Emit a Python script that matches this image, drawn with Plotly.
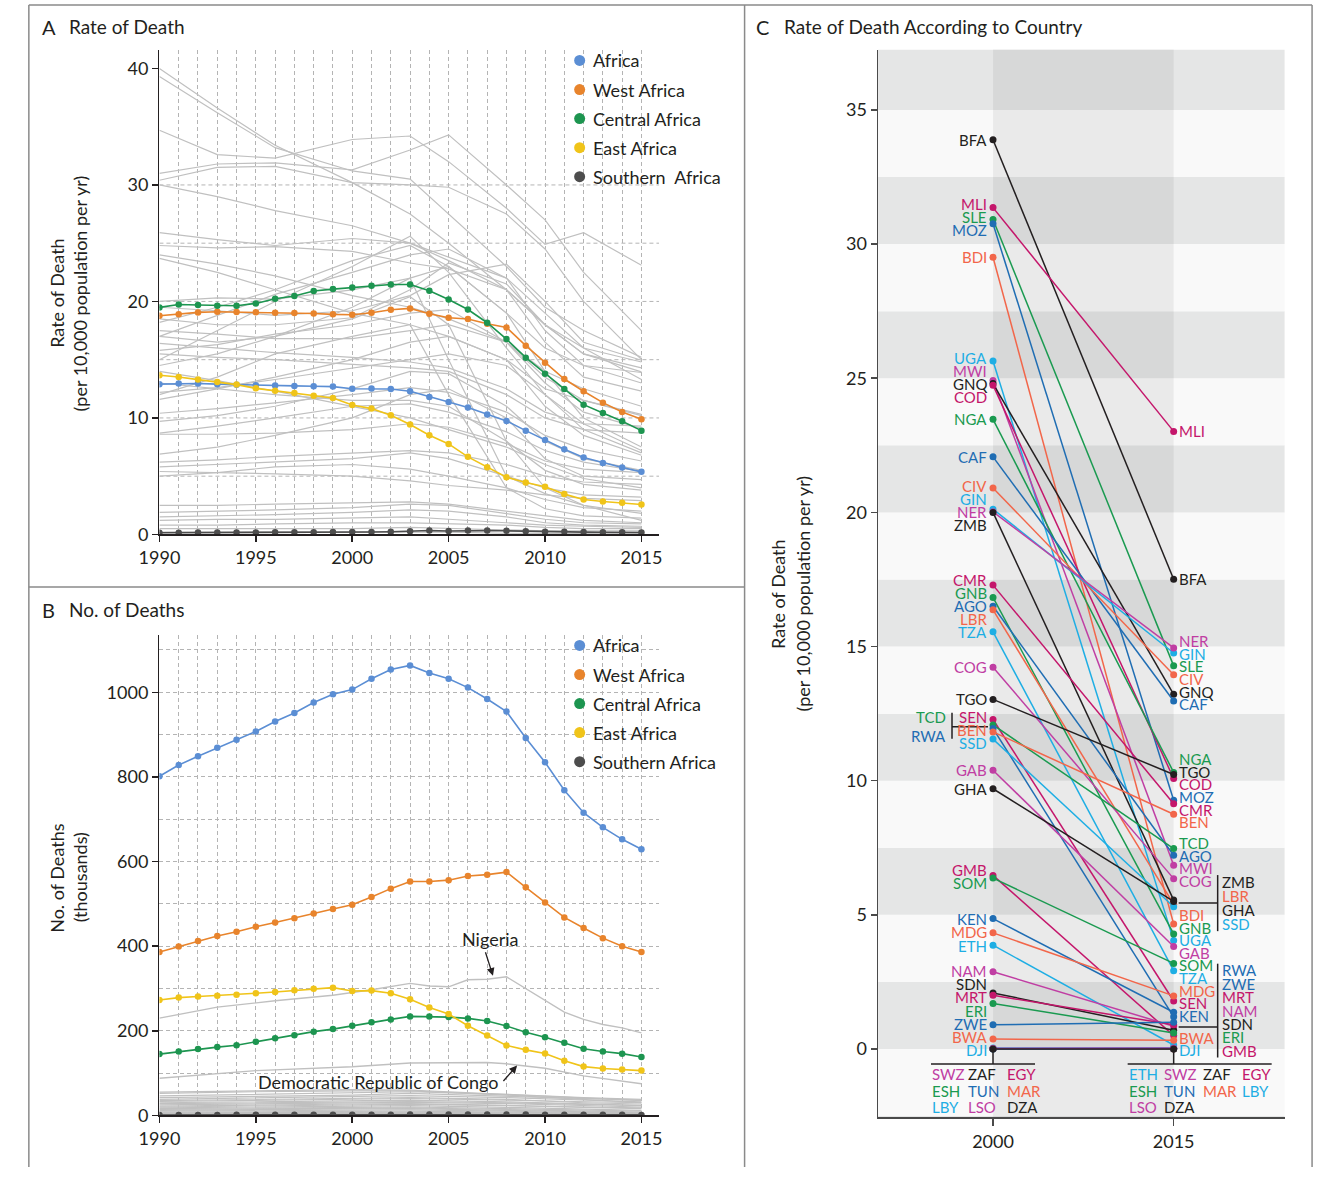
import plotly.graph_objects as go

W, H = 1319, 1177
FONT = "Lato"
INK = "#231f20"
GRID = "#b4b4b4"
GRAY = "#c0c0c0"
DASH = "4px,3px"


def xp(v):
    return v / W


def yp(v):
    return 1 - v / H


# ---------------- data ----------------
YEARS = list(range(1990, 2016))
TICK_YEARS = [1990, 1995, 2000, 2005, 2010, 2015]
REGIONS = ["Africa", "West Africa", "Central Africa", "East Africa", "Southern Africa"]
REGION_LEGEND_A = ["Africa", "West Africa", "Central Africa", "East Africa", "Southern\u00a0 Africa"]
REGION_COLORS = ["#5b8ed4", "#e8842c", "#1d9550", "#f0c419", "#4d4d4d"]

# Panel A: rate of death per 10,000 population per year
AFRICA_RATE = [12.9, 12.95, 12.95, 12.9, 12.85, 12.8, 12.78, 12.75, 12.72, 12.69, 12.5, 12.52, 12.48,
               12.29, 11.8, 11.37, 10.89, 10.29, 9.74, 8.91, 8.11, 7.31, 6.6, 6.14, 5.74, 5.37]
WEST_RATE = [18.77, 18.91, 19.06, 19.11, 19.09, 19.08, 19.03, 19.0, 18.97, 18.89, 18.86, 19.03, 19.29,
             19.4, 18.94, 18.6, 18.49, 18.09, 17.77, 16.2, 14.74, 13.34, 12.29, 11.31, 10.51, 9.89]
CENTRAL_RATE = [19.49, 19.74, 19.69, 19.63, 19.63, 19.83, 20.23, 20.46, 20.89, 21.06, 21.2, 21.34, 21.46,
                21.46, 20.91, 20.17, 19.31, 18.17, 16.77, 15.17, 13.8, 12.49, 11.14, 10.43, 9.71, 8.91]
EAST_RATE = [13.66, 13.51, 13.29, 13.09, 12.86, 12.54, 12.34, 12.14, 11.91, 11.71, 11.11, 10.8, 10.23,
             9.43, 8.51, 7.77, 6.66, 5.77, 4.91, 4.46, 4.09, 3.46, 3.0, 2.83, 2.71, 2.57]
SOUTH_RATE = [0.15, 0.15, 0.16, 0.16, 0.17, 0.17, 0.18, 0.18, 0.19, 0.2, 0.2, 0.21, 0.23,
              0.27, 0.33, 0.3, 0.34, 0.33, 0.31, 0.27, 0.24, 0.22, 0.2, 0.19, 0.18, 0.17]

# Panel A gray country lines (values at GRAY_YEARS_A)
GRAY_YEARS_A = [1990, 1993, 1996, 2000, 2003, 2005, 2008, 2010, 2012, 2015]
GRAY_RATE_LINES = [
    [40.0, 36.6, 33.4, 30.2, 27.5, 25.0, 21.0, 18.0, 16.0, 13.3],
    [39.3, 36.2, 33.2, 31.2, 30.5, 27.5, 23.0, 19.5, 17.5, 15.2],
    [34.7, 32.6, 32.3, 33.9, 34.2, 32.0, 28.0, 24.9, 25.9, 23.1],
    [31.0, 31.8, 31.9, 31.3, 33.0, 34.3, 30.0, 27.0, 22.5, 17.5],
    [30.4, 31.5, 31.6, 30.2, 30.0, 29.8, 27.5, 24.5, 20.0, 15.0],
    [30.0, 29.0, 27.8, 26.5, 25.0, 23.5, 21.0, 16.5, 13.5, 12.3],
    [25.9, 25.3, 24.8, 25.4, 25.0, 23.8, 22.0, 19.0, 16.0, 14.8],
    [24.8, 24.6, 24.7, 24.3, 23.3, 22.8, 21.0, 18.0, 15.5, 14.3],
    [24.0, 23.2, 22.2, 20.5, 19.5, 18.5, 16.5, 14.0, 12.5, 11.0],
    [23.7, 22.5, 21.0, 19.0, 18.0, 17.0, 15.0, 12.5, 11.5, 10.3],
    [15.0, 17.5, 20.0, 23.0, 25.6, 22.5, 16.0, 12.0, 9.0, 7.0],
    [17.0, 18.8, 20.6, 22.5, 24.0, 24.5, 22.0, 17.5, 14.5, 13.9],
    [18.2, 19.5, 21.0, 23.5, 24.8, 23.0, 19.0, 16.0, 14.5, 13.0],
    [19.5, 19.2, 18.8, 19.2, 20.5, 22.3, 23.2, 20.0, 16.5, 14.95],
    [18.5, 18.0, 18.0, 18.6, 21.0, 23.3, 21.5, 18.0, 15.5, 13.95],
    [17.5, 17.2, 16.8, 16.8, 17.5, 18.0, 16.5, 13.5, 11.5, 10.2],
    [16.4, 16.0, 15.6, 15.2, 14.8, 14.3, 12.5, 10.5, 9.5, 9.3],
    [15.8, 16.3, 17.2, 18.0, 19.0, 19.3, 16.5, 13.0, 10.5, 9.1],
    [15.5, 15.2, 15.0, 14.6, 14.3, 14.0, 12.0, 10.0, 9.0, 8.7],
    [14.5, 15.5, 17.0, 19.5, 22.0, 23.0, 19.0, 14.0, 10.0, 7.5],
    [12.2, 12.6, 13.3, 14.3, 15.0, 15.5, 14.5, 12.0, 9.5, 7.2],
    [11.6, 12.5, 13.5, 15.0, 16.5, 17.0, 15.0, 11.0, 8.5, 6.8],
    [10.4, 10.8, 11.3, 12.0, 12.6, 12.2, 10.5, 8.5, 7.3, 6.3],
    [9.7, 10.2, 11.0, 12.5, 14.0, 13.8, 11.0, 8.0, 6.5, 5.5],
    [8.7, 9.3, 10.0, 11.0, 11.2, 10.5, 8.8, 7.2, 6.2, 5.4],
    [8.6, 8.6, 8.7, 9.0, 9.5, 9.2, 7.8, 6.3, 5.6, 5.3],
    [6.9, 7.5, 8.5, 10.0, 12.0, 12.5, 10.0, 6.5, 5.0, 4.7],
    [6.2, 6.4, 6.7, 7.0, 7.2, 7.0, 6.0, 5.0, 4.5, 4.3],
    [14.0, 13.2, 12.3, 11.0, 10.0, 9.0, 7.5, 6.0, 4.8, 4.0],
    [13.0, 12.5, 12.0, 11.5, 11.5, 11.0, 8.0, 5.5, 4.3, 3.8],
    [5.8, 6.0, 6.2, 6.5, 7.0, 6.5, 5.0, 4.0, 3.4, 3.2],
    [5.4, 5.3, 5.2, 5.0, 4.6, 4.2, 3.8, 3.4, 3.1, 2.9],
    [5.0, 5.3, 5.8, 6.0, 5.6, 5.0, 4.0, 3.0, 2.3, 2.0],
    [20.0, 20.3, 20.2, 21.0, 22.0, 15.0, 5.0, 3.5, 2.5, 1.8],
    [12.0, 13.5, 15.5, 17.0, 18.0, 12.0, 4.0, 2.2, 1.6, 1.4],
    [17.0, 16.5, 17.0, 18.5, 20.4, 18.0, 8.0, 4.0, 2.5, 1.2],
    [2.5, 2.5, 2.6, 2.7, 2.8, 2.6, 2.0, 1.6, 1.2, 1.0],
    [1.9, 2.0, 2.1, 2.3, 2.6, 2.5, 1.8, 1.3, 1.0, 0.9],
    [1.5, 1.6, 1.7, 1.9, 2.1, 2.0, 1.5, 1.0, 0.8, 0.7],
    [1.2, 1.3, 1.3, 1.4, 1.5, 1.3, 1.0, 0.8, 0.7, 0.6],
    [0.8, 0.8, 0.9, 1.0, 1.0, 0.9, 0.8, 0.6, 0.5, 0.5],
    [0.5, 0.5, 0.5, 0.5, 0.6, 0.5, 0.4, 0.3, 0.3, 0.3],
    [0.2, 0.2, 0.2, 0.2, 0.2, 0.2, 0.1, 0.1, 0.1, 0.05],
]

# Panel B: number of deaths (thousands)
AFRICA_DEATHS = [801.6, 828, 849, 869, 888, 907.5, 931, 951, 975.7, 995.3, 1006.3, 1032, 1054,
                 1063.5, 1045.5, 1032, 1011, 984, 954.5, 892, 834.5, 768.6, 715.3, 680.8, 652.5, 629]
WEST_DEATHS = [386, 399, 412, 424, 434, 446, 456, 466, 477, 488, 498, 516, 536,
               553, 553, 556, 566, 569, 575, 539, 503, 468, 443, 419, 400, 386]
CENTRAL_DEATHS = [145, 151, 157, 161.5, 166, 174, 182.5, 189.5, 198, 204, 212, 220, 227,
                  234, 234, 232.4, 229.3, 223, 211.4, 196.6, 185, 171.6, 157.6, 151.3, 146, 138]
EAST_DEATHS = [273, 278.5, 281, 283, 285.5, 288.6, 291.7, 295.6, 299.5, 302, 294, 295, 288.6,
               274.6, 255, 239.5, 212, 188.8, 165.4, 155, 146.6, 129.5, 115.4, 110.8, 108.4, 106]
SOUTH_DEATHS = [1.2, 1.2, 1.3, 1.3, 1.4, 1.4, 1.5, 1.5, 1.6, 1.6, 1.7, 1.8, 1.9,
                2.1, 2.3, 2.3, 2.4, 2.4, 2.3, 2.1, 1.9, 1.7, 1.6, 1.5, 1.4, 1.3]

NIGERIA_YEARS = [1990, 1993, 1996, 1999, 2001, 2003, 2004, 2005, 2006, 2007, 2008, 2009, 2010,
                 2011, 2012, 2013, 2014, 2015]
NIGERIA_DEATHS = [230, 256, 271, 284, 297, 312, 306, 304, 320.6, 322, 327.6, 300, 271,
                  244, 227, 215, 207, 195]
DRC_YEARS = [1990, 1995, 2000, 2003, 2007, 2008, 2010, 2012, 2015]
DRC_DEATHS = [88, 106, 115, 124, 125, 122, 111.5, 93.6, 75]

GRAY_YEARS_B = [1990, 1995, 2000, 2003, 2008, 2012, 2015]
GRAY_DEATH_LINES = [
    [55, 58, 61, 60, 50, 42, 35], [52, 56, 58, 58, 48, 38, 30], [46, 50, 54, 56, 50, 42, 38],
    [42, 45, 48, 52, 46, 40, 36], [38, 42, 45, 47, 42, 36, 32], [35, 38, 40, 42, 38, 30, 27],
    [33, 36, 38, 40, 36, 32, 30], [30, 33, 35, 36, 32, 27, 24], [28, 30, 32, 33, 30, 26, 23],
    [25, 27, 30, 31, 28, 23, 20], [22, 25, 27, 28, 24, 19, 16], [20, 22, 24, 26, 23, 20, 18],
    [18, 20, 22, 23, 19, 14, 12], [16, 18, 19, 20, 16, 12, 10], [14, 15, 17, 18, 14, 10, 8],
    [12, 13, 15, 16, 12, 8, 6], [10, 11, 12, 13, 10, 7, 5], [8, 9, 10, 10, 8, 6, 4],
    [6, 7, 8, 8, 6, 4, 3], [5, 5, 6, 6, 4, 3, 2], [4, 4, 4, 5, 3, 2, 1.5],
    [3, 3, 3, 3, 2, 1.5, 1], [2, 2, 2, 2, 1.5, 1, 0.8], [1, 1, 1, 1, 0.8, 0.6, 0.5],
    [0.5, 0.5, 0.5, 0.5, 0.3, 0.2, 0.2],
]

# Panel C: rate of death by country, 2000 vs 2015
CODES = ["BFA", "MLI", "SLE", "MOZ", "BDI", "UGA", "MWI", "GNQ", "COD", "NGA", "CAF", "CIV", "GIN",
         "NER", "ZMB", "CMR", "GNB", "AGO", "LBR", "TZA", "COG", "TGO", "SEN", "TCD", "RWA", "BEN",
         "SSD", "GAB", "GHA", "GMB", "SOM", "KEN", "MDG", "ETH", "NAM", "SDN", "MRT", "ERI", "ZWE",
         "BWA", "DJI", "SWZ", "ZAF", "EGY", "ESH", "TUN", "MAR", "LBY", "LSO", "DZA"]
RATE_2000 = [33.89, 31.36, 30.92, 30.76, 29.51, 25.64, 24.92, 24.8, 24.74, 23.47, 22.07, 20.91, 20.12,
             20.02, 20.0, 17.29, 16.83, 16.5, 16.37, 15.55, 14.23, 13.03, 12.28, 12.08, 11.95, 11.82,
             11.55, 10.39, 9.7, 6.47, 6.37, 4.86, 4.33, 3.87, 2.88, 2.09, 2.0, 1.7, 0.9,
             0.37, 0.04, 0.02, 0.01, 0.01, 0.01, 0.0, 0.0, 0.0, 0.02, 0.0]
RATE_2015 = [17.51, 23.02, 14.28, 9.27, 4.66, 4.04, 6.85, 13.22, 10.08, 10.31, 12.97, 13.95, 14.76,
             14.95, 5.55, 9.14, 4.29, 7.22, 5.4, 2.92, 6.35, 10.23, 1.79, 7.47, 1.2, 8.75,
             5.3, 3.82, 5.5, 0.5, 3.19, 1.37, 1.98, 0.15, 0.85, 0.7, 0.9, 0.6, 1.0,
             0.33, 0.05, 0.03, 0.01, 0.01, 0.01, 0.0, 0.0, 0.02, 0.03, 0.0]

LEFT_BRACKET = ["TCD", "RWA"]
LEFT_BOTTOM = ["SWZ", "ZAF", "EGY", "ESH", "TUN", "MAR", "LBY", "LSO", "DZA"]
RIGHT_BRACKETS = [["ZMB", "LBR", "GHA", "SSD"], ["RWA", "ZWE", "MRT", "NAM", "SDN", "ERI", "GMB"]]
RIGHT_BOTTOM = ["ETH", "SWZ", "ZAF", "EGY", "ESH", "TUN", "MAR", "LBY", "LSO", "DZA"]

PALETTE = ["#231f20", "#c4166b", "#1a9a50", "#1f6db3", "#f2664a", "#1eaee4", "#c03ea3"]

# ---------------- figure ----------------
fig = go.Figure()

for vals in GRAY_RATE_LINES:
    fig.add_trace(go.Scatter(x=GRAY_YEARS_A, y=vals, mode="lines", xaxis="x", yaxis="y",
                             line=dict(color=GRAY, width=1.2), hoverinfo="skip", showlegend=False))
for vals in GRAY_DEATH_LINES:
    fig.add_trace(go.Scatter(x=GRAY_YEARS_B, y=vals, mode="lines", xaxis="x2", yaxis="y2",
                             line=dict(color=GRAY, width=1.2), hoverinfo="skip", showlegend=False))
for xs, ys in [(NIGERIA_YEARS, NIGERIA_DEATHS), (DRC_YEARS, DRC_DEATHS)]:
    fig.add_trace(go.Scatter(x=xs, y=ys, mode="lines", xaxis="x2", yaxis="y2",
                             line=dict(color=GRAY, width=1.4), hoverinfo="skip", showlegend=False))

rate_series = [AFRICA_RATE, WEST_RATE, CENTRAL_RATE, EAST_RATE, SOUTH_RATE]
death_series = [AFRICA_DEATHS, WEST_DEATHS, CENTRAL_DEATHS, EAST_DEATHS, SOUTH_DEATHS]
for name, col, r, d in zip(REGIONS, REGION_COLORS, rate_series, death_series):
    fig.add_trace(go.Scatter(x=YEARS, y=r, mode="lines+markers", name=name, xaxis="x", yaxis="y",
                             line=dict(color=col, width=1.6), marker=dict(size=6.5, color=col),
                             showlegend=False))
    fig.add_trace(go.Scatter(x=YEARS, y=d, mode="lines+markers", name=name, xaxis="x2", yaxis="y2",
                             line=dict(color=col, width=1.6), marker=dict(size=6.5, color=col),
                             showlegend=False))

for i, code in enumerate(CODES):
    col = PALETTE[i % len(PALETTE)]
    fig.add_trace(go.Scatter(x=[2000, 2015], y=[RATE_2000[i], RATE_2015[i]], mode="lines+markers",
                             xaxis="x3", yaxis="y3", name=code,
                             line=dict(color=col, width=1.5), marker=dict(size=7, color=col),
                             showlegend=False))

shapes = []
annotations = []
LABEL_SIZE = 15


def spread(codes, values, gap):
    order = sorted(range(len(codes)), key=lambda k: -values[k])
    clusters = [[k] for k in order]

    def top(cl):
        c = sum(values[k] for k in cl) / len(cl)
        return c + gap * (len(cl) - 1) / 2

    changed = True
    while changed:
        changed = False
        for j in range(len(clusters) - 1):
            a, b = clusters[j], clusters[j + 1]
            if (top(a) - gap * (len(a) - 1)) - top(b) < gap:
                clusters[j] = a + b
                del clusters[j + 1]
                changed = True
                break
    pos = {}
    for cl in clusters:
        t = top(cl)
        for n, k in enumerate(cl):
            pos[codes[k]] = t - gap * n
    return pos


idx = {c: i for i, c in enumerate(CODES)}


def color_of(code):
    return PALETTE[idx[code] % len(PALETTE)]


def label(code, x, y, anchor, xshift=0, yshift=0):
    annotations.append(dict(x=x, y=y, xref="x3", yref="y3", text=code, showarrow=False,
                            xanchor=anchor, yanchor="middle", xshift=xshift, yshift=yshift,
                            borderpad=0,
                            font=dict(family=FONT, size=LABEL_SIZE, color=color_of(code))))


def seg(x, y, x0, x1, y0, y1, ymode="pixel"):
    d = dict(type="line", xref="x3", yref="y3", xsizemode="pixel", xanchor=x, x0=x0, x1=x1,
             line=dict(color=INK, width=1.5), layer="above")
    if ymode == "pixel":
        d.update(ysizemode="pixel", yanchor=y, y0=y0, y1=y1)
    else:
        d.update(y0=y0, y1=y1)
    shapes.append(d)


excl_left = set(LEFT_BRACKET) | set(LEFT_BOTTOM)
lc = [c for c in CODES if c not in excl_left]
lpos = spread(lc, [RATE_2000[idx[c]] for c in lc], 0.49)
for c in lc:
    label(c, 2000, lpos[c], "right", xshift=-5)

m = sum(RATE_2000[idx[c]] for c in LEFT_BRACKET) / len(LEFT_BRACKET)
for n, c in enumerate(LEFT_BRACKET):
    label(c, 2000, m + 0.36 - 0.72 * n, "right", xshift=-46)
seg(2000, None, -41, -41, m + 0.52, m - 0.45, ymode="data")
seg(2000, m, -41, -5, 0, 0)

excl_right = set(RIGHT_BOTTOM) | {c for g in RIGHT_BRACKETS for c in g}
rc = [c for c in CODES if c not in excl_right]
rpos = spread(rc, [RATE_2015[idx[c]] for c in rc], 0.47)
for c in rc:
    label(c, 2015, rpos[c], "left", xshift=4)

for group, gap in zip(RIGHT_BRACKETS, [0.53, 0.5]):
    mean = sum(RATE_2015[idx[c]] for c in group) / len(group)
    half = gap * (len(group) - 1) / 2
    centre = max(mean, -0.07 + half)
    for n, c in enumerate(group):
        label(c, 2015, centre + half - gap * n, "left", xshift=47)
    seg(2015, None, 44, 44, centre + half + 0.25, centre - half - 0.25, ymode="data")
    seg(2015, mean, 5, 44, 0, 0)

for year, group, cols, x0, x1 in [(2000, LEFT_BOTTOM, [-62, -26, 13], -62, 42),
                                  (2015, RIGHT_BOTTOM, [-46, -11, 28, 67], -46, 98)]:
    seg(year, 0, 0, 0, -3, -15)
    seg(year, 0, x0, x1, -15, -15)
    for n, c in enumerate(group):
        r, k = divmod(n, len(cols))
        label(c, year, 0, "left", xshift=cols[k], yshift=-(25 + 16.5 * r))

Y3_RANGE = [-2.55, 37.25]
for k in range(-2, 15):
    y0, y1 = max(2.5 * k, Y3_RANGE[0]), min(2.5 * k + 2.5, Y3_RANGE[1])
    shapes.append(dict(type="rect", xref="x3 domain", yref="y3", x0=0, x1=1, y0=y0, y1=y1,
                       fillcolor="#e5e6e6" if k % 2 == 0 else "#f9f9f9", line=dict(width=0),
                       layer="below"))
shapes.append(dict(type="rect", xref="x3", yref="y3 domain", x0=2000, x1=2015, y0=0, y1=1,
                   fillcolor="rgba(0,0,0,0.06)", line=dict(width=0), layer="below"))

for gv in [5, 10, 15, 20, 25, 30]:
    shapes.append(dict(type="line", xref="x", yref="y", x0=1990, x1=2015.92, y0=gv, y1=gv,
                       line=dict(color=GRID, width=1, dash=DASH), layer="below"))

for (a, b, c, d) in [(8, 5, 1315, 5), (8, 5, 8, 1177), (1315, 5, 1315, 1177), (737, 5, 737, 1177),
                     (8, 592, 737, 592)]:
    shapes.append(dict(type="line", xref="paper", yref="paper", x0=xp(a), y0=yp(b), x1=xp(c), y1=yp(d),
                       line=dict(color="#8a8a8a", width=1.5)))

for base, names in [(61, REGION_LEGEND_A), (651, REGIONS)]:
    for n, (nm, col) in enumerate(zip(names, REGION_COLORS)):
        yy = base + 29.3 * n
        shapes.append(dict(type="circle", xref="paper", yref="paper", xsizemode="pixel",
                           ysizemode="pixel", xanchor=xp(569), yanchor=yp(yy), x0=-5.5, x1=5.5,
                           y0=-5.5, y1=5.5, fillcolor=col, line=dict(width=0)))
        annotations.append(dict(x=xp(581), y=yp(yy), xref="paper", yref="paper", text=nm,
                                showarrow=False, xanchor="left", yanchor="middle",
                                font=dict(family=FONT, size=18, color=INK)))

for letter, title, x0, y0 in [("A", "Rate of Death", 19, 27), ("B", "No. of Deaths", 19, 615),
                              ("C", "Rate of Death According to Country", 747, 27)]:
    annotations.append(dict(x=xp(x0), y=yp(y0), xref="paper", yref="paper", text=letter,
                            showarrow=False, xanchor="left", yanchor="middle",
                            font=dict(family=FONT, size=20, color=INK)))
    annotations.append(dict(x=xp(x0 + 28), y=yp(y0), xref="paper", yref="paper", text=title,
                            showarrow=False, xanchor="left", yanchor="middle",
                            font=dict(family=FONT, size=19, color=INK)))

for (t1, t2, xa, xb, yc) in [("Rate of Death", "(per 10,000 population per yr)", 37, 61, 296),
                             ("No. of Deaths", "(thousands)", 37, 61, 885),
                             ("Rate of Death", "(per 10,000 population per yr)", 771, 796, 599)]:
    for t, xx in [(t1, xa), (t2, xb)]:
        annotations.append(dict(x=xp(xx), y=yp(yc), xref="paper", yref="paper", text=t,
                                showarrow=False, textangle=-90, xanchor="center", yanchor="middle",
                                font=dict(family=FONT, size=18, color=INK)))

# panel B callouts: text and arrow drawn separately
for x, y, txt, tx, ty, ax, ay in [(2007.3, 330, "Nigeria", -3, 37, -8, -25),
                                  (2008.55, 118, "Democratic Republic of Congo", -139, -16, -15, 17)]:
    annotations.append(dict(x=x, y=y, xref="x2", yref="y2", text=txt, showarrow=False,
                            xshift=tx, yshift=ty, xanchor="center", yanchor="middle",
                            font=dict(family=FONT, size=18, color=INK)))
    annotations.append(dict(x=x, y=y, xref="x2", yref="y2", text="", showarrow=True,
                            arrowhead=2, arrowsize=1.2, arrowwidth=1.3, arrowcolor=INK,
                            ax=ax, ay=ay))


def time_axis(anchor):
    return dict(domain=[xp(141), xp(650)], range=[1990, 2015.92], anchor=anchor,
                tickvals=TICK_YEARS, ticks="outside", ticklen=6, tickwidth=1.5, tickcolor=INK,
                showline=True, linecolor=INK, linewidth=1.5, zeroline=False,
                showgrid=True, gridcolor=GRID, griddash=DASH, gridwidth=1,
                minor=dict(dtick=1, tick0=1990, showgrid=True, gridcolor=GRID, griddash=DASH,
                           gridwidth=1, ticks=""),
                tickfont=dict(family=FONT, size=18, color=INK))


axis_common = dict(ticks="outside", ticklen=6, tickwidth=1.5, tickcolor=INK, showline=True,
                   linecolor=INK, linewidth=1.5, zeroline=False,
                   tickfont=dict(family=FONT, size=18, color=INK))
axis_c = dict(axis_common, linecolor="#4a4a4a", tickcolor="#4a4a4a")

fig.update_layout(
    width=W, height=H, margin=dict(l=0, r=0, t=0, b=0),
    paper_bgcolor="white", plot_bgcolor="white", showlegend=False,
    font=dict(family=FONT, color=INK),
    xaxis=time_axis("y"),
    yaxis=dict(domain=[yp(539), yp(50)], range=[0, 41.62], anchor="x",
               tickvals=[0, 10, 20, 30, 40], showgrid=False, **axis_common),
    xaxis2=time_axis("y2"),
    yaxis2=dict(domain=[yp(1125), yp(640)], range=[0, 1136.4], anchor="x2",
                tickvals=[0, 200, 400, 600, 800, 1000], showgrid=True, gridcolor=GRID,
                griddash=DASH, gridwidth=1,
                minor=dict(dtick=100, tick0=0, showgrid=True, gridcolor=GRID, griddash=DASH,
                           gridwidth=1, ticks=""), **axis_common),
    xaxis3=dict(domain=[xp(873), xp(1287)], range=[1990.46, 2024.21], anchor="y3",
                tickvals=[2000, 2015], showgrid=False, **dict(axis_c, ticklen=7)),
    yaxis3=dict(domain=[yp(1127), yp(50)], range=Y3_RANGE, anchor="x3",
                tickvals=[0, 5, 10, 15, 20, 25, 30, 35], showgrid=False, **axis_c),
    shapes=shapes, annotations=annotations,
)

fig.write_html("out.html", config={"staticPlot": True, "displayModeBar": False},
               post_script="document.body.style.margin='0px';")
